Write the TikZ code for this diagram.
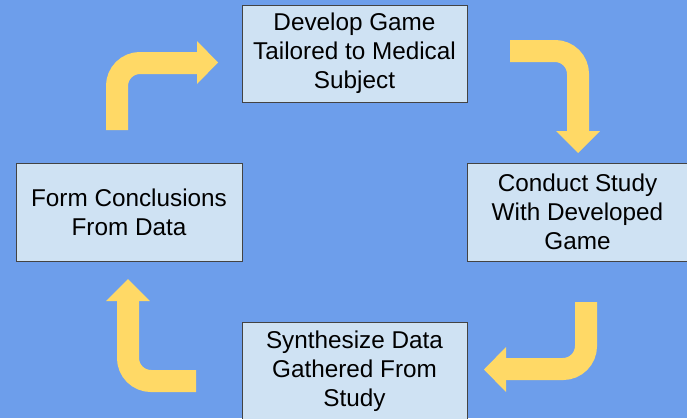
\documentclass[tikz,border=0pt]{standalone}
\usepackage{fontspec}
\setmainfont{Liberation Sans}
\usepackage{tikz}
\usetikzlibrary{positioning}
\definecolor{backColor}{HTML}{6D9EEB}
\definecolor{boxColor}{HTML}{CFE2F3}
\definecolor{edgeColor}{HTML}{434343}
\definecolor{arrowColor}{HTML}{FFD966}
\tikzset{
  stepbox/.style={draw=edgeColor, line width=0.8pt, fill=boxColor, align=center,
    inner sep=0pt, font=\fontsize{24.3}{29}\selectfont},
  bendarrow/.style={draw=arrowColor, line width=22pt, rounded corners=23pt}
}
\begin{document}
\begin{tikzpicture}[x=1pt,y=-1pt]
          \fill[backColor] (0,0) rectangle (687,418);
          \useasboundingbox (0,0) rectangle (687,418);
          % boxes
          \node[stepbox, minimum width=225pt, minimum height=97pt] (develop) at (354.5,53.5) {Develop Game\\Tailored to Medical\\Subject};
          \node[stepbox, minimum width=221pt, minimum height=98pt] (conduct) at (577.5,212) {Conduct Study\\With Developed\\Game};
          \node[stepbox, minimum width=225pt, minimum height=98pt] (synth) at (354.5,371) {Synthesize Data\\Gathered From\\Study};
          \node[stepbox, minimum width=226pt, minimum height=98pt] (form) at (129,212) {Form Conclusions\\From Data};
          % arrow ends
          \coordinate (formOut) at (117,130);
          \coordinate (developIn) at (198,63);
          \coordinate (developOut) at (510,51);
          \coordinate (conductIn) at (578,132);
          \coordinate (conductOut) at (586,302);
          \coordinate (synthIn) at (505,369);
          \coordinate (synthOut) at (196,381);
          \coordinate (formIn) at (128,300);
          % shafts
          \draw[bendarrow] (formOut) |- (developIn);
          \draw[bendarrow] (developOut) -| (conductIn);
          \draw[bendarrow] (conductOut) |- (synthIn);
          \draw[bendarrow] (synthOut) -| (formIn);
          % heads
          \fill[arrowColor] (197,41) -- (218,62.5) -- (197,84) -- cycle;
          \fill[arrowColor] (556,131) -- (578,153) -- (600,131) -- cycle;
          \fill[arrowColor] (506,347) -- (484,369.5) -- (506,392) -- cycle;
          \fill[arrowColor] (106,301) -- (128,279) -- (150,301) -- cycle;
        \end{tikzpicture}
\end{document}
